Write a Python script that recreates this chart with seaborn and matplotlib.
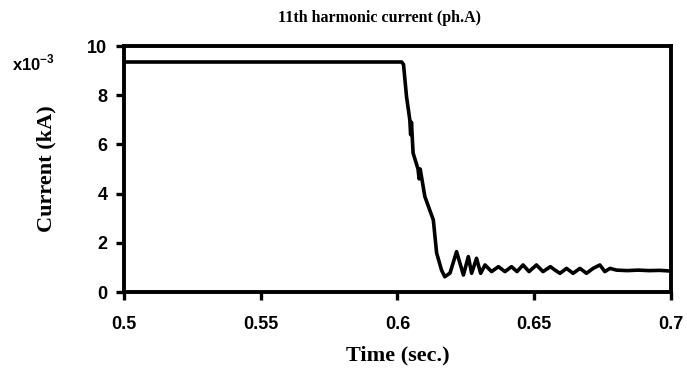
import matplotlib
matplotlib.use("Agg")
import matplotlib.pyplot as plt
import seaborn as sns
import pandas as pd

# Waveform (time in s, current in 1e-3 kA)
time_s = [0.5000, 0.6015, 0.6022, 0.6033, 0.6045, 0.6048, 0.6051, 0.6057,
          0.6075, 0.6079, 0.6083, 0.6100, 0.6131, 0.6143, 0.6161, 0.6173,
          0.6192, 0.6216, 0.6241, 0.6259, 0.6271, 0.6289, 0.6304, 0.6320,
          0.6344, 0.6369, 0.6393, 0.6417, 0.6437, 0.6459, 0.6481, 0.6508,
          0.6532, 0.6559, 0.6576, 0.6594, 0.6618, 0.6642, 0.6667, 0.6691,
          0.6715, 0.6740, 0.6758, 0.6777, 0.6801, 0.6840, 0.6880, 0.6920,
          0.6960, 0.7000]
current_e3 = [9.35, 9.35, 9.25, 7.94, 7.00, 6.40, 6.90, 5.65,
              5.00, 4.60, 5.00, 3.88, 2.93, 1.59, 0.89, 0.62,
              0.77, 1.64, 0.69, 1.44, 0.76, 1.37, 0.76, 1.10,
              0.83, 1.03, 0.83, 1.03, 0.83, 1.10, 0.83, 1.10,
              0.83, 1.03, 0.89, 0.76, 0.96, 0.76, 0.96, 0.76,
              0.96, 1.10, 0.83, 0.96, 0.89, 0.87, 0.89, 0.87,
              0.88, 0.85]

x_ticks = [0.5, 0.55, 0.6, 0.65, 0.7]
x_tick_labels = ["0.5", "0.55", "0.6", "0.65", "0.7"]
y_ticks = [0, 2, 4, 6, 8, 10]
y_tick_labels = ["0", "2", "4", "6", "8", "10"]

title = "11th harmonic current (ph.A)"
x_label = "Time (sec.)"
y_label = "Current (kA)"

df = pd.DataFrame({"t": time_s, "i": current_e3})

sns.set_style("white")
plt.rcParams["text.color"] = "black"
plt.rcParams["axes.labelcolor"] = "black"
plt.rcParams["xtick.color"] = "black"
plt.rcParams["ytick.color"] = "black"

fig = plt.figure(figsize=(6.87, 3.75), dpi=100)
ax = fig.add_axes([0.1805, 0.2213, 0.7962, 0.656])

sns.lineplot(data=df, x="t", y="i", ax=ax, color="black", linewidth=2.6,
             estimator=None, sort=False)

ax.set_xlim(0.5, 0.7)
ax.set_ylim(0, 10)
ax.set_xticks(x_ticks)
ax.set_xticklabels(x_tick_labels)
ax.set_yticks(y_ticks)
ax.set_yticklabels(y_tick_labels)

for sp in ax.spines.values():
    sp.set_visible(True)
    sp.set_color("black")
    sp.set_linewidth(2.8)

ax.tick_params(axis="both", direction="out", length=6, width=2.4,
               color="black", labelcolor="black",
               bottom=True, left=True, top=False, right=False)
for lab in ax.get_xticklabels() + ax.get_yticklabels():
    lab.set_fontfamily("Liberation Sans")
    lab.set_fontweight("bold")
    lab.set_fontsize(13)
    lab.set_color("black")
ax.tick_params(axis="x", pad=11)
ax.tick_params(axis="y", pad=6)

ax.set_xlabel(x_label, fontfamily="Liberation Serif", fontweight="bold",
              fontsize=16, labelpad=9, color="black")
ax.set_ylabel(y_label, fontfamily="Liberation Serif", fontweight="bold",
              fontsize=16, labelpad=22, color="black")

fig.text(0.553, 0.952, title, ha="center", va="center", color="black",
         fontfamily="Liberation Serif", fontweight="bold", fontsize=11.5)
fig.text(0.048, 0.832, r"x10$^{\mathregular{-3}}$", ha="center", va="center",
         color="black", fontfamily="Liberation Sans", fontweight="bold",
         fontsize=12)

fig.savefig("out.png", dpi=100, facecolor="white")
